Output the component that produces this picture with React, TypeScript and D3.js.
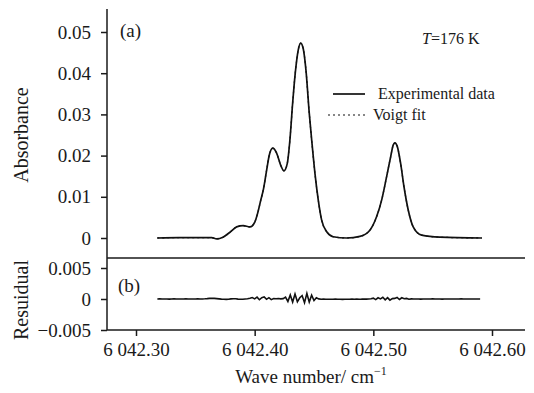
import React, { useEffect, useRef } from 'react';
import * as d3 from 'd3';

// spectrum (wave number in cm-1, absorbance)
const waveNumbers = [
  6042.3179, 6042.336, 6042.3539, 6042.3638, 6042.368, 6042.3733, 6042.3792, 6042.3848,
  6042.3904, 6042.396, 6042.4003, 6042.4025, 6042.405, 6042.4075, 6042.4101, 6042.4123,
  6042.4152, 6042.4185, 6042.4219, 6042.4247, 6042.4275, 6042.4297, 6042.432, 6042.4342,
  6042.4367, 6042.4388, 6042.4409, 6042.4432, 6042.446, 6042.4483, 6042.4508, 6042.4536,
  6042.4564, 6042.4607, 6042.4662, 6042.4775, 6042.4887, 6042.4971, 6042.5028, 6042.507,
  6042.5112, 6042.5146, 6042.5168, 6042.5182, 6042.5201, 6042.523, 6042.5258, 6042.5294,
  6042.5336, 6042.5407, 6042.5561, 6042.5915,
];
const absorbance = [
  0, 0.0001, 0.0001, 0.0001, -0.0002, 0.0002, 0.0014, 0.0027,
  0.003, 0.0027, 0.004, 0.006, 0.009, 0.012, 0.0165, 0.0201,
  0.0218, 0.0206, 0.0177, 0.0163, 0.0181, 0.0238, 0.0327, 0.04,
  0.0456, 0.0473, 0.046, 0.0408, 0.0303, 0.023, 0.0157, 0.0092,
  0.0044, 0.0015, 0.0003, 0, 0.0004, 0.0019, 0.0052, 0.0092,
  0.0149, 0.0197, 0.0226, 0.0231, 0.0223, 0.0181, 0.0125, 0.0068,
  0.0027, 0.0007, 0.0002, 0,
];
// the fit lies on top of the data everywhere in the picture
const voigtFit = [...absorbance];

// residual, sampled every 0.002 cm-1 from 6042.318
const residualStart = 6042.318;
const residualStep = 0.002;
const residuals = [
  0, 0.00002, -0.00001, 0.00001, 0, -0.00002, 0.00001, 0.00002, 0, -0.00001,
  0.00001, 0, 0.00002, 0.00001, -0.00001, 0, 0.00001, 0.00002, 0, 0.00001,
  0.00003, 0.00006, 0.0001, 0.00012, 0.0001, 0.00006, 0.00002, -0.00002, -0.00004,
  -0.00006, -0.00003, 0.00002, 0.00005, 0.00003, -0.00002, -0.00005, -0.00003, 0.00001, 0.00004,
  0.00012, 0.00024, 0.00002, 0.0003, -0.00012, 0.0002, 0.00035, -0.00005, 0.00022, -0.0001, 0.00008,
  0.00003, 0.00008, 0.00002, 0.00006,
  0.0003, -0.0004, 0.00065, -0.0005, 0.0008, -0.00045, 0.0002, 0.00055, -0.0006, 0.0009,
  -0.0005, 0.0006, -0.00025, 0.0002,
  0.00002, -0.00003, -0.00002, -0.00004, -0.00003, -0.00005, -0.00004, -0.00002, -0.00003, -0.00005,
  -0.00006, -0.00004, -0.00003, -0.00004, -0.00002, -0.00003, -0.00001, -0.00003, -0.00002, 0,
  -0.00002, 0.00001,
  0.00005, 0.00014, -0.0001, 0.0002, 0.00002, 0.00028, -0.00014, 0.00022, -0.00018, 0.00006,
  0.0001, 0.00025, -0.00008, 0.0002, 0.00004, 0.0001, -0.00004,
  0.00002, -0.00001, 0.00001, 0, -0.00002, 0, 0.00001, -0.00001, 0, 0.00002,
  0.00001, -0.00001, 0, -0.00002, -0.00001, 0.00001, 0, 0.00001, -0.00001, 0,
  0.00001, 0.00002, 0, -0.00001, 0, 0.00001, -0.00001, 0, 0.00001, 0,
];

const xTicks = [6042.3, 6042.4, 6042.5, 6042.6];
const absTicks = [0, 0.01, 0.02, 0.03, 0.04, 0.05];
const resTicks = [-0.005, 0, 0.005];

const FONT = '"Liberation Serif", "Times New Roman", serif';
const INK = '#1a1a1a';

const App = () => {
  const ref = useRef<SVGSVGElement>(null);

  useEffect(() => {
    const svg = d3.select(ref.current);
    svg.selectAll('*').remove();

    const left = 107, right = 525, top = 9, sep = 258, bottom = 330;

    const x = d3.scaleLinear().domain([6042.3, 6042.6]).range([136, 492]);
    const yAbs = d3.scaleLinear().domain([0, 0.05]).range([238, 32]);
    const yRes = d3.scaleLinear().domain([-0.005, 0.005]).range([330, 268]);

    const fmtX = d3.formatLocale({ decimal: '.', thousands: ' ', grouping: [3], currency: ['', ''] }).format(',.2f');
    const fmtAbs = (d: number) => (d === 0 ? '0' : d3.format('.2f')(d));
    const fmtRes = (d: number) => (d === 0 ? '0' : d3.format('.3f')(d));

    // frame lines
    svg.append('line').attr('x1', left).attr('x2', left).attr('y1', top).attr('y2', bottom)
      .attr('stroke', INK).attr('stroke-width', 1.5);
    svg.append('line').attr('x1', left).attr('x2', right).attr('y1', sep).attr('y2', sep)
      .attr('stroke', INK).attr('stroke-width', 1.5);
    svg.append('line').attr('x1', left).attr('x2', right).attr('y1', bottom).attr('y2', bottom)
      .attr('stroke', INK).attr('stroke-width', 1.5);

    const styleAxis = (g: any) => {
      g.select('.domain').remove();
      g.selectAll('line').attr('stroke', INK).attr('stroke-width', 1.5);
      g.selectAll('text').attr('fill', INK).attr('font-family', FONT).attr('font-size', 19);
    };

    svg.append('g').attr('transform', `translate(${left},0)`)
      .call(d3.axisLeft(yAbs).tickValues(absTicks).tickSize(6).tickPadding(10).tickFormat(fmtAbs as any))
      .call(styleAxis);
    svg.append('g').attr('transform', `translate(${left},0)`)
      .call(d3.axisLeft(yRes).tickValues(resTicks).tickSize(6).tickPadding(10).tickFormat(fmtRes as any))
      .call(styleAxis);
    svg.append('g').attr('transform', `translate(0,${bottom})`)
      .call(d3.axisBottom(x).tickValues(xTicks).tickSize(6).tickPadding(7).tickFormat(fmtX as any))
      .call(styleAxis);

    // spectrum
    const spectrum = waveNumbers.map((w, i) => [w, absorbance[i]] as [number, number]);
    const fit = waveNumbers.map((w, i) => [w, voigtFit[i]] as [number, number]);
    const line = d3.line<[number, number]>()
      .x(d => x(d[0]))
      .y(d => yAbs(d[1]))
      .curve(d3.curveMonotoneX);

    svg.append('path').datum(spectrum).attr('d', line)
      .attr('fill', 'none').attr('stroke', '#111').attr('stroke-width', 1.7);
    svg.append('path').datum(fit).attr('d', line)
      .attr('fill', 'none').attr('stroke', '#111').attr('stroke-width', 1.2).attr('stroke-dasharray', '2,3');

    // residual
    const resLine = d3.line<number>()
      .x((_, i) => x(residualStart + i * residualStep))
      .y(d => yRes(d));
    svg.append('path').datum(residuals).attr('d', resLine)
      .attr('fill', 'none').attr('stroke', '#111').attr('stroke-width', 1.6);

    const txt = (tx: number, ty: number, s: string, size: number, anchor = 'start') =>
      svg.append('text').attr('x', tx).attr('y', ty).attr('text-anchor', anchor)
        .attr('font-family', FONT).attr('font-size', size).attr('fill', INK).text(s);

    txt(120, 37, '(a)', 19);
    txt(118, 292, '(b)', 19);

    const t = svg.append('text').attr('x', 422).attr('y', 44)
      .attr('font-family', FONT).attr('font-size', 16).attr('fill', INK);
    t.append('tspan').attr('font-style', 'italic').text('T');
    t.append('tspan').text('=176 K');

    // legend
    svg.append('line').attr('x1', 333).attr('x2', 365).attr('y1', 94).attr('y2', 94)
      .attr('stroke', '#111').attr('stroke-width', 1.7);
    txt(378, 99, 'Experimental data', 16);
    svg.append('line').attr('x1', 328).attr('x2', 367).attr('y1', 115).attr('y2', 115)
      .attr('stroke', '#111').attr('stroke-width', 1.2).attr('stroke-dasharray', '2,3');
    txt(373, 120, 'Voigt fit', 16);

    // axis titles
    svg.append('text').attr('transform', 'translate(28,135) rotate(-90)').attr('text-anchor', 'middle')
      .attr('font-family', FONT).attr('font-size', 20).attr('fill', INK).text('Absorbance');
    svg.append('text').attr('transform', 'translate(28,300) rotate(-90)').attr('text-anchor', 'middle')
      .attr('font-family', FONT).attr('font-size', 20).attr('fill', INK).text('Resuidual');

    const xl = svg.append('text').attr('x', 311).attr('y', 383).attr('text-anchor', 'middle')
      .attr('font-family', FONT).attr('font-size', 19).attr('fill', INK);
    xl.append('tspan').text('Wave number/ cm');
    xl.append('tspan').attr('font-size', 12).attr('dy', -8).text('\u22121');
  }, []);

  return (
    <svg ref={ref} width={534} height={393}
      style={{ position: 'absolute', left: 0, top: 0, background: '#fff' }} />
  );
};

export default App;
